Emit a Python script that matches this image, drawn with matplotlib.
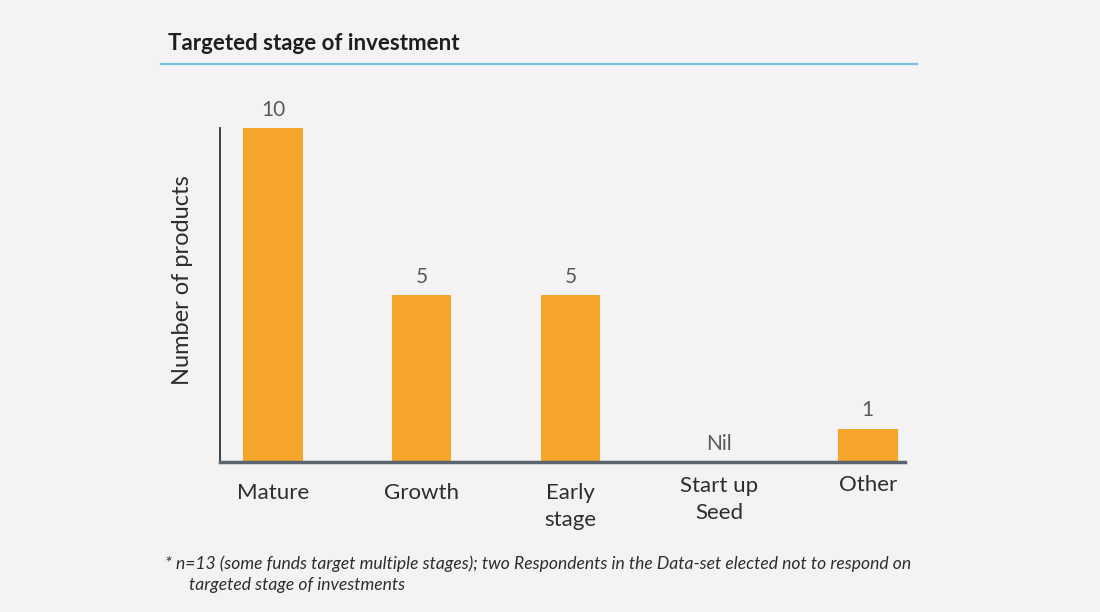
import matplotlib
matplotlib.use("Agg")
import matplotlib.pyplot as plt
from matplotlib.lines import Line2D

categories = ["Mature", "Growth", "Early\nstage", "Start up\nSeed", "Other"]
values = [10, 5, 5, 0, 1]
value_labels = ["10", "5", "5", "Nil", "1"]
label_offsets = [0, 0, 0, 7, 8]  # px upward shift of category labels

BG = "#f4f2f3"
BAR = "#f6a52b"
TXT = "#2e2e2e"
GRAY = "#5a5a5a"

plt.rcParams['font.family'] = ['Lato', 'DejaVu Sans']

fig = plt.figure(figsize=(11, 6.12), dpi=100, facecolor=BG)
ax = fig.add_axes([0.2, 1 - 462/612, 0.8227 - 0.2, (462 - 128)/612])
ax.set_facecolor(BG)

x = list(range(len(categories)))
ax.bar(x, values, width=0.4, color=BAR, zorder=2)
ax.set_xlim(-0.357, 4.25)
ax.set_ylim(0, 10)

for s in ["top", "right"]:
    ax.spines[s].set_visible(False)
ax.spines["left"].set_color("#333333")
ax.spines["left"].set_linewidth(1.3)
ax.spines["bottom"].set_color("#5b6570")
ax.spines["bottom"].set_linewidth(2.5)
ax.set_xticks([])
ax.set_yticks([])

ax.set_ylabel("Number of products", fontsize=17, color=TXT)
ax.yaxis.set_label_coords(-0.039, 0.545)

# value labels
for xi, v, lab in zip(x, values, value_labels):
    dy = 6 if lab == "Nil" else 6
    ax.annotate(lab, (xi, v), xytext=(0, dy), textcoords="offset points",
                ha="center", va="bottom", fontsize=15, color=GRAY)

# category labels
for xi, cat, off in zip(x, categories, label_offsets):
    ax.annotate(cat, (xi, 0), xytext=(0, -15 + off * 0.72), textcoords="offset points",
                ha="center", va="top", fontsize=16, color=TXT, linespacing=1.45,
                annotation_clip=False)

# title and rule
fig.text(168/1100, 1 - 44/612, "Targeted stage of investment", fontsize=16,
         fontweight="bold", color="#1e1e1e", ha="left", va="center")
fig.add_artist(Line2D([161/1100, 917/1100], [1 - 64/612, 1 - 64/612],
                      color="#72c1d9", linewidth=1.6, transform=fig.transFigure))

# footnote
fig.text(165/1100, 1 - 564/612,
         "* n=13 (some funds target multiple stages); two Respondents in the Data-set elected not to respond on",
         fontsize=12.6, style="italic", color=TXT, ha="left", va="center")
fig.text(189/1100, 1 - 585/612, "targeted stage of investments",
         fontsize=12.6, style="italic", color=TXT, ha="left", va="center")

fig.savefig("out.png", dpi=100, facecolor=BG)
